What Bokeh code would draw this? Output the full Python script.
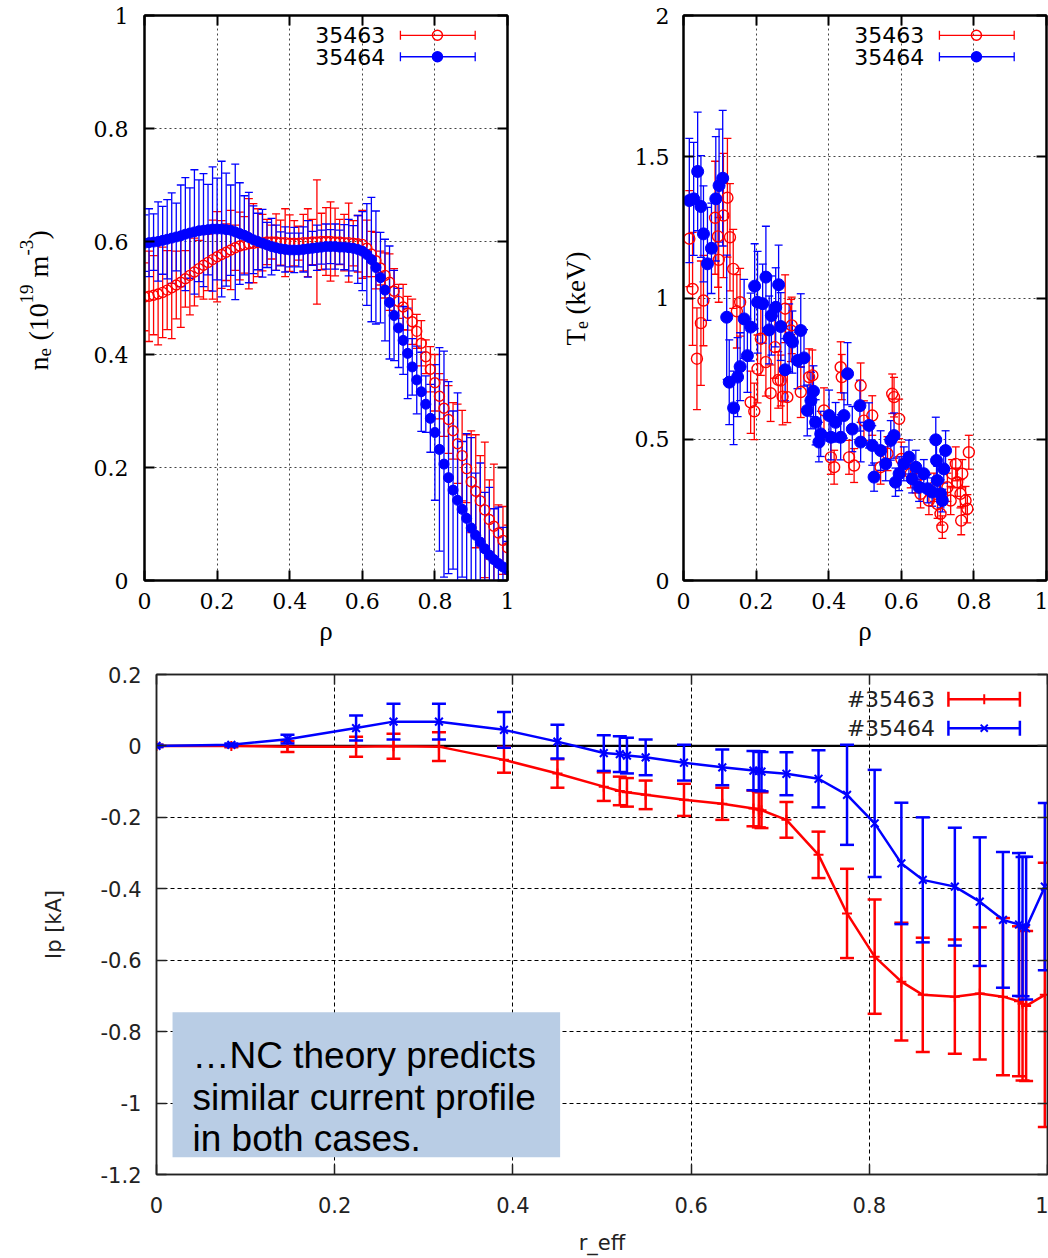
import numpy as np
from bokeh.plotting import figure
from bokeh.models import (Range1d, FixedTicker, LinearAxis, CustomJSTickFormatter,
                          Label, Span, BoxAnnotation, ColumnDataSource)
from bokeh.layouts import column, row
from bokeh.embed import file_html
from bokeh.resources import INLINE

# ---------------- data ----------------
series_names = ["35463", "35464"]
ip_series_names = ["#35463", "#35464"]

ne_rho = [0.0, 0.0125, 0.025, 0.0375, 0.05, 0.0625, 0.075, 0.0875, 0.1, 0.1125,
          0.125, 0.1375, 0.15, 0.1625, 0.175, 0.1875, 0.2, 0.2125, 0.225, 0.2375,
          0.25, 0.2625, 0.275, 0.2875, 0.3, 0.3125, 0.325, 0.3375, 0.35, 0.3625,
          0.375, 0.3875, 0.4, 0.4125, 0.425, 0.4375, 0.45, 0.4625, 0.475, 0.4875,
          0.5, 0.5125, 0.525, 0.5375, 0.55, 0.5625, 0.575, 0.5875, 0.6, 0.6125,
          0.625, 0.6375, 0.65, 0.6625, 0.675, 0.6875, 0.7, 0.7125, 0.725, 0.7375,
          0.75, 0.7625, 0.775, 0.7875, 0.8, 0.8125, 0.825, 0.8375, 0.85, 0.8625,
          0.875, 0.8875, 0.9, 0.9125, 0.925, 0.9375, 0.95, 0.9625, 0.975, 0.9875, 1.0]

ne_35463 = [0.502, 0.503, 0.505, 0.507, 0.510, 0.514, 0.518, 0.523, 0.528, 0.534,
            0.540, 0.546, 0.552, 0.558, 0.563, 0.568, 0.573, 0.577, 0.581, 0.585,
            0.589, 0.592, 0.594, 0.596, 0.597, 0.598, 0.598, 0.599, 0.599, 0.599,
            0.598, 0.598, 0.597, 0.597, 0.597, 0.598, 0.598, 0.599, 0.599, 0.600,
            0.600, 0.600, 0.599, 0.599, 0.598, 0.598, 0.597, 0.596, 0.595, 0.588,
            0.578, 0.566, 0.553, 0.540, 0.528, 0.512, 0.494, 0.484, 0.473, 0.458,
            0.441, 0.420, 0.396, 0.374, 0.350, 0.326, 0.305, 0.285, 0.265, 0.242,
            0.221, 0.198, 0.175, 0.158, 0.141, 0.125, 0.108, 0.096, 0.084, 0.071, 0.058]
ne_35463_err = [0.06, 0.08, 0.07, 0.09, 0.08, 0.07, 0.09, 0.06, 0.08, 0.05,
                0.07, 0.06, 0.05, 0.06, 0.05, 0.07, 0.08, 0.06, 0.05, 0.07,
                0.04, 0.06, 0.05, 0.08, 0.07, 0.06, 0.05, 0.04, 0.03, 0.05,
                0.04, 0.06, 0.05, 0.04, 0.03, 0.05, 0.06, 0.04, 0.11, 0.05,
                0.06, 0.07, 0.06, 0.04, 0.05, 0.07, 0.04, 0.05, 0.06, 0.05,
                0.04, 0.05, 0.03, 0.04, 0.05, 0.04, 0.03, 0.04, 0.03, 0.04,
                0.03, 0.04, 0.03, 0.04, 0.05, 0.04, 0.05, 0.06, 0.05, 0.07,
                0.08, 0.06, 0.09, 0.10, 0.08, 0.12, 0.07, 0.11, 0.05, 0.06, 0.04]

ne_35464 = [0.597, 0.598, 0.599, 0.600, 0.602, 0.604, 0.606, 0.608, 0.610, 0.613,
            0.615, 0.617, 0.619, 0.620, 0.621, 0.622, 0.622, 0.622, 0.621, 0.620,
            0.617, 0.614, 0.611, 0.607, 0.603, 0.600, 0.597, 0.594, 0.591, 0.589,
            0.587, 0.586, 0.585, 0.585, 0.585, 0.586, 0.587, 0.588, 0.589, 0.590,
            0.591, 0.591, 0.591, 0.590, 0.590, 0.589, 0.588, 0.586, 0.583, 0.577,
            0.568, 0.554, 0.536, 0.514, 0.492, 0.469, 0.447, 0.425, 0.402, 0.378,
            0.355, 0.334, 0.312, 0.287, 0.262, 0.232, 0.206, 0.182, 0.160, 0.142,
            0.126, 0.110, 0.093, 0.080, 0.068, 0.056, 0.045, 0.037, 0.030, 0.024, 0.019]
ne_35464_err = [0.05, 0.06, 0.05, 0.07, 0.06, 0.07, 0.08, 0.06, 0.09, 0.10,
                0.08, 0.11, 0.09, 0.10, 0.08, 0.11, 0.09, 0.12, 0.10, 0.08,
                0.12, 0.09, 0.07, 0.08, 0.06, 0.05, 0.06, 0.04, 0.05, 0.04,
                0.03, 0.04, 0.03, 0.04, 0.03, 0.04, 0.05, 0.03, 0.04, 0.03,
                0.04, 0.03, 0.04, 0.03, 0.04, 0.05, 0.04, 0.06, 0.07, 0.09,
                0.11, 0.10, 0.08, 0.09, 0.10, 0.08, 0.07, 0.06, 0.08, 0.05,
                0.06, 0.07, 0.05, 0.06, 0.12, 0.18, 0.20, 0.17, 0.14, 0.19,
                0.12, 0.15, 0.16, 0.11, 0.14, 0.10, 0.12, 0.09, 0.10, 0.07, 0.05]

te_35463_rho = [0.016, 0.025, 0.037, 0.048, 0.055, 0.087, 0.095, 0.097, 0.110, 0.121,
                0.128, 0.137, 0.147, 0.156, 0.185, 0.195, 0.204, 0.213, 0.227, 0.240,
                0.252, 0.261, 0.268, 0.273, 0.280, 0.286, 0.296, 0.298, 0.323, 0.346,
                0.355, 0.387, 0.406, 0.415, 0.433, 0.436, 0.456, 0.470, 0.488, 0.497,
                0.520, 0.543, 0.562, 0.575, 0.580, 0.594, 0.600, 0.626, 0.640, 0.653,
                0.676, 0.690, 0.700, 0.708, 0.713, 0.727, 0.736, 0.740, 0.750, 0.754,
                0.763, 0.765, 0.768, 0.777, 0.782, 0.786]
te_35463 = [1.21, 1.032, 0.785, 0.911, 0.991, 1.284, 1.218, 1.135, 1.292, 1.355,
            1.215, 1.103, 0.953, 0.985, 0.631, 0.599, 0.749, 0.856, 0.773, 0.663,
            0.826, 0.71, 0.708, 0.651, 0.962, 0.649, 0.885, 0.903, 0.667, 0.72,
            0.726, 0.602, 0.436, 0.401, 0.755, 0.72, 0.436, 0.407, 0.69, 0.566,
            0.584, 0.401, 0.449, 0.661, 0.649, 0.572, 0.43, 0.378, 0.36, 0.307,
            0.283, 0.33, 0.27, 0.236, 0.189, 0.33, 0.283, 0.378, 0.413, 0.348,
            0.307, 0.212, 0.378, 0.283, 0.254, 0.454]
te_35463_err = [0.17, 0.20, 0.18, 0.22, 0.16, 0.20, 0.18, 0.15, 0.22, 0.21,
                0.19, 0.14, 0.13, 0.12, 0.11, 0.10, 0.12, 0.13, 0.12, 0.10,
                0.11, 0.10, 0.09, 0.10, 0.12, 0.09, 0.11, 0.10, 0.09, 0.10,
                0.09, 0.08, 0.06, 0.06, 0.09, 0.08, 0.06, 0.06, 0.08, 0.07,
                0.07, 0.06, 0.06, 0.07, 0.07, 0.07, 0.06, 0.05, 0.05, 0.05,
                0.05, 0.05, 0.05, 0.04, 0.04, 0.05, 0.05, 0.05, 0.06, 0.05,
                0.05, 0.05, 0.05, 0.05, 0.05, 0.06]

te_35464_rho = [0.016, 0.028, 0.039, 0.048, 0.055, 0.066, 0.077, 0.089, 0.098, 0.108,
                0.119, 0.126, 0.138, 0.149, 0.156, 0.167, 0.176, 0.185, 0.196, 0.204,
                0.218, 0.227, 0.236, 0.242, 0.254, 0.262, 0.268, 0.280, 0.291, 0.300,
                0.314, 0.323, 0.332, 0.341, 0.351, 0.358, 0.364, 0.373, 0.378, 0.401,
                0.406, 0.419, 0.433, 0.442, 0.452, 0.465, 0.486, 0.488, 0.511, 0.520,
                0.525, 0.543, 0.557, 0.571, 0.580, 0.584, 0.594, 0.607, 0.621, 0.630,
                0.640, 0.649, 0.662, 0.672, 0.685, 0.695, 0.697, 0.699, 0.708, 0.713,
                0.717, 0.722]
te_35464 = [1.345, 1.351, 1.448, 1.324, 1.227, 1.121, 1.176, 1.351, 1.398, 1.424,
            0.932, 0.702, 0.611, 0.72, 0.757, 0.926, 0.796, 0.897, 1.042, 0.985,
            0.98, 1.074, 0.887, 0.938, 0.967, 1.047, 0.899, 0.746, 0.859, 0.844,
            0.779, 0.885, 0.788, 0.602, 0.637, 0.67, 0.56, 0.49, 0.519, 0.584,
            0.507, 0.56, 0.507, 0.584, 0.732, 0.536, 0.619, 0.49, 0.549, 0.478,
            0.366, 0.46, 0.413, 0.496, 0.513, 0.348, 0.378, 0.413, 0.437, 0.36,
            0.401, 0.33, 0.378, 0.325, 0.313, 0.498, 0.425, 0.354, 0.307, 0.283,
            0.395, 0.46]
te_35464_err = [0.22, 0.20, 0.21, 0.18, 0.17, 0.20, 0.16, 0.22, 0.20, 0.24,
                0.22, 0.15, 0.13, 0.14, 0.12, 0.14, 0.13, 0.12, 0.15, 0.18,
                0.14, 0.18, 0.12, 0.14, 0.14, 0.14, 0.12, 0.11, 0.12, 0.11,
                0.10, 0.13, 0.10, 0.09, 0.10, 0.09, 0.08, 0.07, 0.08, 0.09,
                0.08, 0.07, 0.08, 0.08, 0.11, 0.08, 0.09, 0.07, 0.08, 0.07,
                0.05, 0.07, 0.06, 0.07, 0.08, 0.05, 0.06, 0.06, 0.06, 0.05,
                0.06, 0.05, 0.05, 0.05, 0.05, 0.08, 0.06, 0.05, 0.05, 0.04,
                0.05, 0.07]

ip_r = [0.0, 0.084, 0.147, 0.224, 0.266, 0.317, 0.390, 0.450, 0.502, 0.520,
        0.528, 0.549, 0.592, 0.635, 0.670, 0.676, 0.679, 0.707, 0.743, 0.775,
        0.806, 0.836, 0.860, 0.896, 0.924, 0.950, 0.968, 0.972, 0.976, 0.997]
ip_35463 = [0.0, 0.0, -0.002, -0.002, -0.001, -0.002, -0.039, -0.077, -0.114, -0.126,
            -0.130, -0.137, -0.151, -0.162, -0.175, -0.178, -0.180, -0.207, -0.305, -0.469,
            -0.590, -0.660, -0.697, -0.702, -0.693, -0.702, -0.715, -0.722, -0.728, -0.697]
ip_35463_err = [0.003, 0.004, 0.015, 0.028, 0.035, 0.040, 0.036, 0.040, 0.040, 0.040,
                0.040, 0.040, 0.045, 0.045, 0.050, 0.050, 0.050, 0.050, 0.065, 0.125,
                0.160, 0.165, 0.160, 0.160, 0.185, 0.220, 0.210, 0.215, 0.210, 0.370]
ip_35464 = [0.0, 0.003, 0.019, 0.050, 0.068, 0.068, 0.045, 0.012, -0.020, -0.023,
            -0.027, -0.032, -0.047, -0.060, -0.069, -0.070, -0.072, -0.078, -0.092, -0.137,
            -0.217, -0.329, -0.375, -0.394, -0.436, -0.487, -0.500, -0.506, -0.510, -0.394]
ip_35464_err = [0.003, 0.004, 0.012, 0.035, 0.050, 0.050, 0.050, 0.047, 0.050, 0.050,
                0.050, 0.050, 0.050, 0.050, 0.055, 0.055, 0.055, 0.060, 0.080, 0.140,
                0.150, 0.170, 0.175, 0.165, 0.180, 0.190, 0.200, 0.195, 0.200, 0.234]

ne_ticks_x = [0, 0.2, 0.4, 0.6, 0.8, 1]
ne_ticks_y = [0, 0.2, 0.4, 0.6, 0.8, 1]
te_ticks_y = [0, 0.5, 1, 1.5, 2]
ip_ticks_x = [0, 0.2, 0.4, 0.6, 0.8, 1]
ip_ticks_y = [-1.2, -1, -0.8, -0.6, -0.4, -0.2, 0, 0.2]

note_lines = ["\u2026NC theory predicts", "similar current profile", "in both cases."]

# ---------------- styling ----------------
RED = "#ff0000"
BLUE = "#0000ff"
TICKSERIF = "DejaVu Serif"
LABSERIF = "Liberation Serif"
SANS = "DejaVu Sans"
FMT = "return String(Math.round(tick*1000)/1000);"
TOP_H = 660
TOP_BT, TOP_BB = 15, 80      # top-row plot borders (top / bottom)
LAB_W = 70


def fx(p, f):
    return p.x_range.start + f * (p.x_range.end - p.x_range.start)


def fy(p, f):
    return p.y_range.start + f * (p.y_range.end - p.y_range.start)


def errbars(p, x, y, e, color, cap, lw):
    x = np.asarray(x, float); y = np.asarray(y, float); e = np.asarray(e, float)
    src = ColumnDataSource(dict(x=x, lo=y - e, hi=y + e))
    p.segment(x0="x", y0="lo", x1="x", y1="hi", source=src, line_color=color, line_width=lw)
    p.scatter(x="x", y="lo", source=src, marker="dash", size=cap, line_color=color, line_width=lw)
    p.scatter(x="x", y="hi", source=src, marker="dash", size=cap, line_color=color, line_width=lw)


def mirror_axis(p, loc, ticks, color, lw, tick_len):
    ax = LinearAxis(ticker=FixedTicker(ticks=ticks), major_tick_in=tick_len, major_tick_out=0,
                    major_label_standoff=0, major_label_text_font_size="1px",
                    major_label_text_color=None,
                    minor_tick_line_color=None, axis_line_color=color, axis_line_width=lw,
                    major_tick_line_color=color, major_tick_line_width=lw)
    p.add_layout(ax, loc)


def make_top(width, left, right, xr, yr, xticks, yticks, ystand):
    p = figure(width=width, height=TOP_H, x_range=Range1d(*xr), y_range=Range1d(*yr),
               output_backend="svg", toolbar_location=None,
               min_border_left=left, min_border_right=right,
               min_border_top=TOP_BT, min_border_bottom=TOP_BB)
    p.outline_line_color = "black"
    p.outline_line_width = 2
    p.xaxis.ticker = FixedTicker(ticks=xticks)
    p.yaxis.ticker = FixedTicker(ticks=yticks)
    for ax in (p.xaxis[0], p.yaxis[0]):
        ax.formatter = CustomJSTickFormatter(code=FMT)
        ax.major_tick_in = 10
        ax.major_tick_out = 0
        ax.major_tick_line_width = 2
        ax.major_tick_line_color = "black"
        ax.minor_tick_line_color = None
        ax.axis_line_width = 2
        ax.axis_line_color = "black"
        ax.major_label_text_font = TICKSERIF
        ax.major_label_text_font_size = "22px"
        ax.major_label_text_color = "black"
    p.xaxis.major_label_standoff = 12
    p.yaxis.major_label_standoff = ystand
    p.xaxis.axis_label = "\u03c1"
    p.xaxis.axis_label_text_font = LABSERIF
    p.xaxis.axis_label_text_font_size = "27px"
    p.xaxis.axis_label_text_font_style = "normal"
    p.xaxis.axis_label_text_color = "black"
    p.xaxis.axis_label_standoff = 4
    mirror_axis(p, "above", xticks, "black", 2, 10)
    mirror_axis(p, "right", yticks, "black", 2, 10)
    p.grid.grid_line_color = "#444444"
    p.grid.grid_line_dash = "2 3"
    p.grid.grid_line_width = 1
    return p


def top_legend(p, marker_fill):
    rows = [0.965, 0.927]
    for name, color, fill, rf in zip(series_names, [RED, BLUE], marker_fill, rows):
        yv = fy(p, rf)
        p.add_layout(Label(x=fx(p, 0.663), y=yv, text=name, text_align="right",
                           text_baseline="middle", text_font=SANS,
                           text_font_size="22px", text_color="black"))
        p.segment(x0=[fx(p, 0.705)], y0=[yv], x1=[fx(p, 0.911)], y1=[yv],
                  line_color=color, line_width=1.3)
        p.scatter(x=[fx(p, 0.705), fx(p, 0.911)], y=[yv, yv], marker="dash", angle=np.pi / 2,
                  size=9, line_color=color, line_width=1.3)
        p.scatter(x=[fx(p, 0.807)], y=[yv], marker="circle", size=10, line_color=color,
                  line_width=1.5, fill_color=fill)


def label_strip(pieces):
    # narrow figure holding a rotated composite axis title; its frame is aligned
    # with the neighbouring plot, so ranges are set up as pixel coordinates (y up)
    f = figure(width=LAB_W, height=TOP_H, x_range=Range1d(0, LAB_W),
               y_range=Range1d(TOP_BB, TOP_H - TOP_BT),
               output_backend="svg", toolbar_location=None,
               min_border_left=0, min_border_right=0,
               min_border_top=TOP_BT, min_border_bottom=TOP_BB)
    f.axis.visible = False
    f.grid.visible = False
    f.outline_line_color = None
    for txt, xo, yo, size in pieces:
        f.add_layout(Label(x=xo, y=yo, text=txt, angle=np.pi / 2, text_align="left",
                           text_baseline="alphabetic", text_font=LABSERIF,
                           text_font_size=f"{size}px", text_color="black"))
    return f


# ---------------- n_e panel ----------------
p1 = make_top(540 - LAB_W, 144 - LAB_W, 33, (0, 1), (0, 1), ne_ticks_x, ne_ticks_y, 16)
errbars(p1, ne_rho, ne_35463, ne_35463_err, RED, 8, 1.3)
errbars(p1, ne_rho, ne_35464, ne_35464_err, BLUE, 8, 1.3)
p1.scatter(ne_rho, ne_35463, marker="circle", size=10, line_color=RED, line_width=1.4,
           fill_color=None)
p1.scatter(ne_rho, ne_35464, marker="circle", size=10, line_color=BLUE, fill_color=BLUE)
top_legend(p1, [None, BLUE])
bx, y0 = 38, TOP_H - 370
lab1 = label_strip([("n", bx, y0, 28), ("e", bx + 6, y0 + 14, 19), ("(10", bx, y0 + 30, 28),
                    ("19", bx - 12, y0 + 67, 19), ("m", bx, y0 + 93, 28),
                    ("-3", bx - 12, y0 + 115, 19), (")", bx, y0 + 131, 28)])

# ---------------- T_e panel ----------------
p2 = make_top(508 - LAB_W, 143 - LAB_W, 2, (0, 1), (0, 2), ne_ticks_x, te_ticks_y, 14)
errbars(p2, te_35463_rho, te_35463, te_35463_err, RED, 8, 1.3)
errbars(p2, te_35464_rho, te_35464, te_35464_err, BLUE, 8, 1.3)
p2.scatter(te_35463_rho, te_35463, marker="circle", size=11, line_color=RED, line_width=1.4,
           fill_color=None)
p2.scatter(te_35464_rho, te_35464, marker="circle", size=12, line_color=BLUE, fill_color=BLUE)
top_legend(p2, [None, BLUE])
bx2, y02 = 35, TOP_H - 345
lab2 = label_strip([("T", bx2, y02, 27), ("e", bx2 + 6, y02 + 16.5, 18),
                    ("(keV)", bx2, y02 + 31, 27)])

# ---------------- Ip panel ----------------
p3 = figure(width=1048, height=1258 - TOP_H, x_range=Range1d(0, 1), y_range=Range1d(-1.2, 0.2),
            output_backend="svg", toolbar_location=None,
            min_border_left=156, min_border_right=1, min_border_top=14, min_border_bottom=84)
p3.outline_line_color = "#222222"
p3.outline_line_width = 1.5
p3.xaxis.ticker = FixedTicker(ticks=ip_ticks_x)
p3.yaxis.ticker = FixedTicker(ticks=ip_ticks_y)
for ax in (p3.xaxis[0], p3.yaxis[0]):
    ax.formatter = CustomJSTickFormatter(code=FMT)
    ax.major_tick_in = 10
    ax.major_tick_out = 0
    ax.major_tick_line_width = 1.5
    ax.major_tick_line_color = "#222222"
    ax.minor_tick_line_color = None
    ax.axis_line_width = 1.5
    ax.axis_line_color = "#222222"
    ax.major_label_text_font = SANS
    ax.major_label_text_font_size = "21px"
    ax.major_label_text_color = "#222222"
    ax.axis_label_text_font = SANS
    ax.axis_label_text_font_size = "21px"
    ax.axis_label_text_font_style = "normal"
    ax.axis_label_text_color = "#222222"
p3.xaxis.major_label_standoff = 22
p3.yaxis.major_label_standoff = 15
p3.xaxis.axis_label = "r_eff"
p3.xaxis.axis_label_standoff = 15
p3.yaxis.axis_label = "Ip [kA]"
p3.yaxis.axis_label_standoff = 32
mirror_axis(p3, "above", ip_ticks_x, "#222222", 1.5, 10)
mirror_axis(p3, "right", ip_ticks_y, "#222222", 1.5, 10)
p3.grid.grid_line_color = "black"
p3.grid.grid_line_dash = "4 3"
p3.grid.grid_line_width = 1
p3.add_layout(Span(location=0, dimension="width", line_color="black", line_width=2.2,
                   level="underlay"))

errbars(p3, ip_r, ip_35463, ip_35463_err, RED, 14, 2.5)
p3.line(ip_r, ip_35463, line_color=RED, line_width=2.5)
p3.scatter(ip_r, ip_35463, marker="cross", size=10, line_color=RED, line_width=2)
errbars(p3, ip_r, ip_35464, ip_35464_err, BLUE, 14, 2.5)
p3.line(ip_r, ip_35464, line_color=BLUE, line_width=2.5)
p3.scatter(ip_r, ip_35464, marker="x", size=11, line_color=BLUE, line_width=2)

for name, color, mk, rf in zip(ip_series_names, [RED, BLUE], ["dash", "x"], [0.9507, 0.8926]):
    yv = fy(p3, rf)
    p3.add_layout(Label(x=fx(p3, 0.8738), y=yv, text=name, text_align="right",
                        text_baseline="middle", text_font=SANS, text_font_size="22px",
                        text_color="#222222"))
    p3.segment(x0=[fx(p3, 0.8888)], y0=[yv], x1=[fx(p3, 0.969)], y1=[yv],
               line_color=color, line_width=2.5)
    p3.scatter(x=[fx(p3, 0.8888), fx(p3, 0.969)], y=[yv, yv], marker="dash", angle=np.pi / 2,
               size=15, line_color=color, line_width=2.5)
    p3.scatter(x=[fx(p3, 0.929)], y=[yv], marker=mk, angle=(np.pi / 2 if mk == "dash" else 0),
               size=10, line_color=color, line_width=2)

p3.add_layout(BoxAnnotation(left=fx(p3, 0.018), right=fx(p3, 0.453),
                            bottom=fy(p3, 0.0347), top=fy(p3, 0.3246),
                            fill_color="#b9cde5", fill_alpha=1.0, line_color=None))
for txt, rf in zip(note_lines, [0.2389, 0.1549, 0.0729]):
    p3.add_layout(Label(x=fx(p3, 0.0404), y=fy(p3, rf), text=txt, text_align="left",
                        text_baseline="alphabetic", text_font="Liberation Sans",
                        text_font_size="37px", text_color="black"))

layout = column(row(lab1, p1, lab2, p2), p3)
open("out.html", "w").write(file_html(layout, INLINE))
